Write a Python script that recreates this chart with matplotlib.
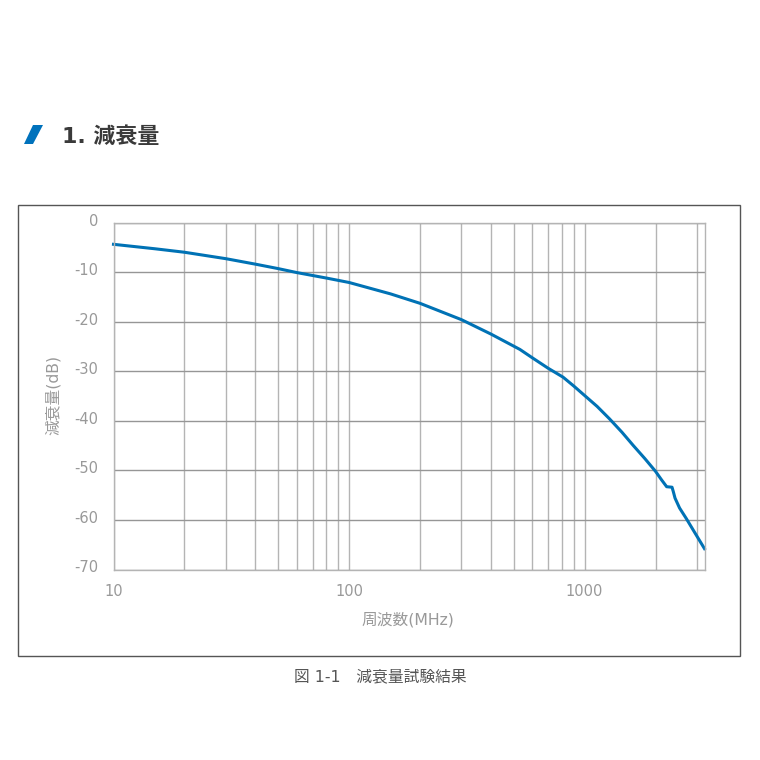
import matplotlib
matplotlib.use("Agg")
import matplotlib.pyplot as plt
from matplotlib.patches import Polygon, Rectangle
from matplotlib.transforms import ScaledTranslation

plt.rcParams['font.family'] = ['DejaVu Sans', 'Noto Sans CJK JP']

freq = [10, 15, 20, 30, 40, 50, 60, 80, 100, 150, 200, 300, 400, 531, 600, 700, 810, 900,
        1000, 1130, 1275, 1440, 1610, 1800, 2000, 2120, 2230, 2350, 2380, 2420, 2530, 2700, 2930, 3228]
atten = [-4.4, -5.3, -6.0, -7.3, -8.4, -9.3, -10.1, -11.2, -12.1, -14.4, -16.3, -19.6, -22.5, -25.6,
         -27.3, -29.4, -31.2, -33.0, -34.9, -37.1, -39.6, -42.3, -45.0, -47.6, -50.2, -51.9, -53.3, -53.4, -54.3, -55.6,
         -57.6, -59.7, -62.5, -65.8]
y_ticks = [0, -10, -20, -30, -40, -50, -60, -70]
x_major = [10, 100, 1000]
x_minor = [20, 30, 40, 50, 60, 70, 80, 90, 200, 300, 400, 500, 600, 700, 800, 900, 2000, 3000]
x_label = "周波数(MHz)"
y_label = "減衰量(dB)"
title = "1. 減衰量"
caption = "図 1-1　減衰量試験結果"

W = 760
fig = plt.figure(figsize=(7.6, 7.6), dpi=100)
def fx(x): return x / W
def fy(y): return 1 - y / W

fig.add_artist(Rectangle((fx(18), fy(656)), (740 - 18) / W, (656 - 205) / W, transform=fig.transFigure,
                         fill=False, ec="#555555", lw=1.0))
fig.add_artist(Polygon([(fx(33), fy(125)), (fx(43), fy(125)), (fx(33), fy(144)), (fx(24), fy(144))],
                       transform=fig.transFigure, fc="#0072BC", ec="none"))
fig.text(fx(62), fy(137), title, fontsize=15.8, fontweight="bold", color="#3a3a3a", va="center", ha="left")
fig.text(fx(380), fy(677), caption, fontsize=11.3, color="#555555", va="center", ha="center")

ax = fig.add_axes([fx(113.5), fy(569.5), (704.5 - 113.5) / W, (569.5 - 222.5) / W])
ax.set_xscale("log")
ax.set_xlim(10, 3228)
ax.set_ylim(-70, 0)
ax.set_xticks(x_major)
ax.set_xticklabels([str(v) for v in x_major])
ax.set_xticks(x_minor, minor=True)
ax.set_xticklabels([], minor=True)
ax.set_yticks(y_ticks)
ax.set_yticklabels([str(v) for v in y_ticks])
ax.tick_params(axis="both", which="both", length=0, labelcolor="#999999", labelsize=10.5)
ax.tick_params(axis="x", pad=10.5)
ax.tick_params(axis="y", pad=11)
for lab in ax.get_yticklabels():
    lab.set_transform(lab.get_transform() + ScaledTranslation(0, 3 / 100, fig.dpi_scale_trans))
ax.grid(True, axis="x", which="both", color="#b4b4b4", lw=1.0)
ax.grid(True, axis="y", which="major", color="#969696", lw=1.0)
for s in ax.spines.values():
    s.set_color("#b4b4b4")
    s.set_linewidth(1.0)
ax.set_axisbelow(True)
ax.plot(freq, atten, color="#0072B5", lw=2.2, clip_on=False, solid_joinstyle="round")

fig.text(fx(408), fy(620), x_label, fontsize=11.3, color="#999999", va="center", ha="center")
fig.text(fx(53), fy(395), y_label, fontsize=11.3, color="#999999", va="center", ha="center", rotation=90)

fig.savefig("out.png", dpi=100, facecolor="white")
